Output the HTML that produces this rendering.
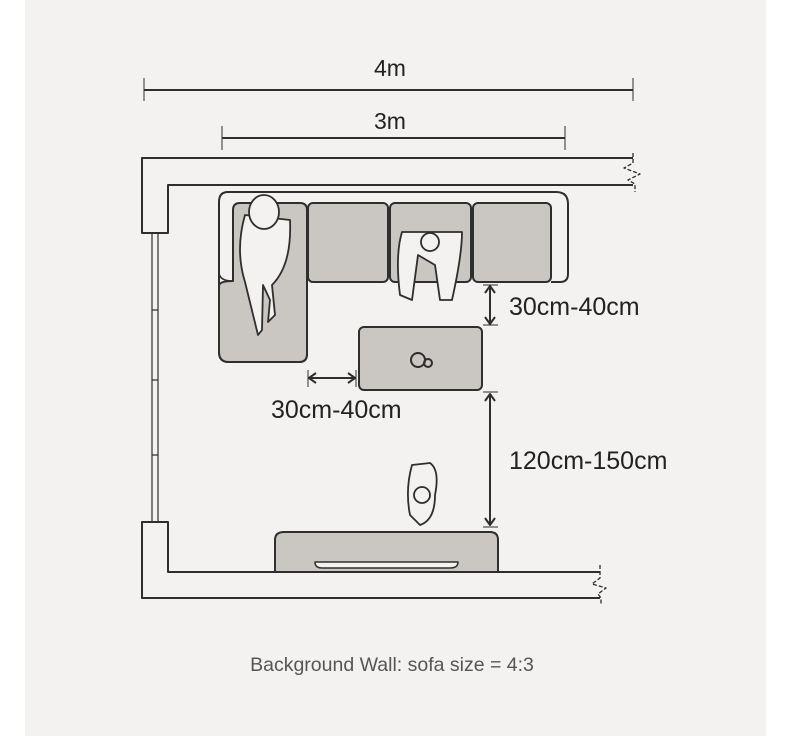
<!DOCTYPE html>
<html><head><meta charset="utf-8"><style>
html,body{margin:0;padding:0;background:#fff;}
svg{display:block;}
text{font-family:"Liberation Sans",sans-serif;fill:#222;}
</style></head><body>
<svg width="790" height="740" viewBox="0 0 790 740" xmlns="http://www.w3.org/2000/svg">
<rect x="25" y="0" width="741" height="736" fill="#f3f2f1"/>
<g stroke="#2e2e2e" stroke-width="2" fill="none" stroke-linejoin="round">
<line x1="144" y1="90" x2="633" y2="90"/><line x1="144" y1="78" x2="144" y2="101" stroke-width="1"/><line x1="633" y1="78" x2="633" y2="101" stroke-width="1"/>
<line x1="222" y1="138" x2="565" y2="138"/><line x1="222" y1="126" x2="222" y2="150" stroke-width="1"/><line x1="565" y1="126" x2="565" y2="150" stroke-width="1"/>
<path d="M633 158 H142 V233 H168 V185 H633"/>
<path d="M633 153 V163 L624 168 L640 174 L628 180 L635 184 V192" stroke-width="1.3" stroke-dasharray="4 2"/>
<path d="M600 572 H168 V522 H142 V598 H600"/>
<path d="M600 565 V578 L592 584 L606 588 L598 594 L601 598 V605" stroke-width="1.3" stroke-dasharray="4 2"/>
<path d="M152 233 V522 M158 233 V522 M152 310 H158 M152 380 H158 M152 455 H158" stroke-width="1.2"/>
<path d="M228 192 H556 Q568 192 568 204 V274 Q568 282 560 282 H551 V282 M219 202 Q219 192 228 192 M219 202 V352 Q219 362 229 362 H299 Q307 362 307 354 V282" />
<path d="M219 202 V272 Q219 281 233 281" stroke-width="1.5"/>
<path d="M233 210 Q233 203 240 203 H300 Q307 203 307 210 V354 Q307 362 299 362 H229 Q219 362 219 352 V286 Q219 281 233 281 Z" fill="#cac6c2"/>
<rect x="308" y="203" width="80" height="79" rx="5" fill="#cac6c2"/>
<rect x="390" y="203" width="81" height="79" rx="5" fill="#cac6c2"/>
<rect x="473" y="203" width="78" height="79" rx="5" fill="#cac6c2"/>
<rect x="359" y="327" width="123" height="63" rx="5" fill="#cac6c2"/>
<circle cx="418" cy="360" r="7"/><circle cx="428" cy="363" r="4"/>
<g fill="#f3f2f1" stroke-width="1.8">
<path d="M245 215 Q235 250 245 282 L258 335 L262 330 L263 285 L270 300 L268 322 L275 315 L272 285 Q292 265 290 220 Z"/>
<ellipse cx="264" cy="212" rx="15" ry="17"/>
<path d="M402 232 Q395 255 400 295 L412 300 L418 255 L435 265 L440 300 L452 300 Q462 255 462 232 Z"/>
<circle cx="430" cy="242" r="9"/>
<path d="M412 465 Q405 490 410 515 L420 525 Q435 520 435 495 Q440 470 430 463 Z"/>
<circle cx="422" cy="495" r="8"/>
</g>
<line x1="483" y1="285" x2="498" y2="285" stroke-width="1"/><line x1="483" y1="325" x2="498" y2="325" stroke-width="1"/>
<line x1="490" y1="287" x2="490" y2="323"/>
<path d="M485 293 L490 286 L495 293 M485 317 L490 324 L495 317"/>
<line x1="308" y1="370" x2="308" y2="387" stroke-width="1"/><line x1="356" y1="370" x2="356" y2="387" stroke-width="1"/>
<line x1="310" y1="378" x2="354" y2="378"/>
<path d="M316 373 L309 378 L316 383 M348 373 L355 378 L348 383"/>
<line x1="483" y1="392" x2="498" y2="392" stroke-width="1"/><line x1="483" y1="527" x2="498" y2="527" stroke-width="1"/>
<line x1="490" y1="394" x2="490" y2="525"/>
<path d="M485 401 L490 394 L495 401 M485 518 L490 525 L495 518"/>
<path d="M275 572 V540 Q275 532 284 532 H490 Q498 532 498 540 V572 Z" fill="#cac6c2"/>
<path d="M315 562 H458 Q458 568 450 568 H322 Q315 568 315 562 Z" stroke-width="1.5" fill="#f3f2f1"/>
</g>
<text x="390" y="76" font-size="23" text-anchor="middle">4m</text>
<text x="390" y="129" font-size="23" text-anchor="middle">3m</text>
<text x="509" y="315" font-size="25">30cm-40cm</text>
<text x="271" y="418" font-size="25">30cm-40cm</text>
<text x="509" y="469" font-size="25">120cm-150cm</text>
<text x="392" y="671" font-size="19.5" text-anchor="middle" style="fill:#555">Background Wall: sofa size = 4:3</text>
</svg>
</body></html>
